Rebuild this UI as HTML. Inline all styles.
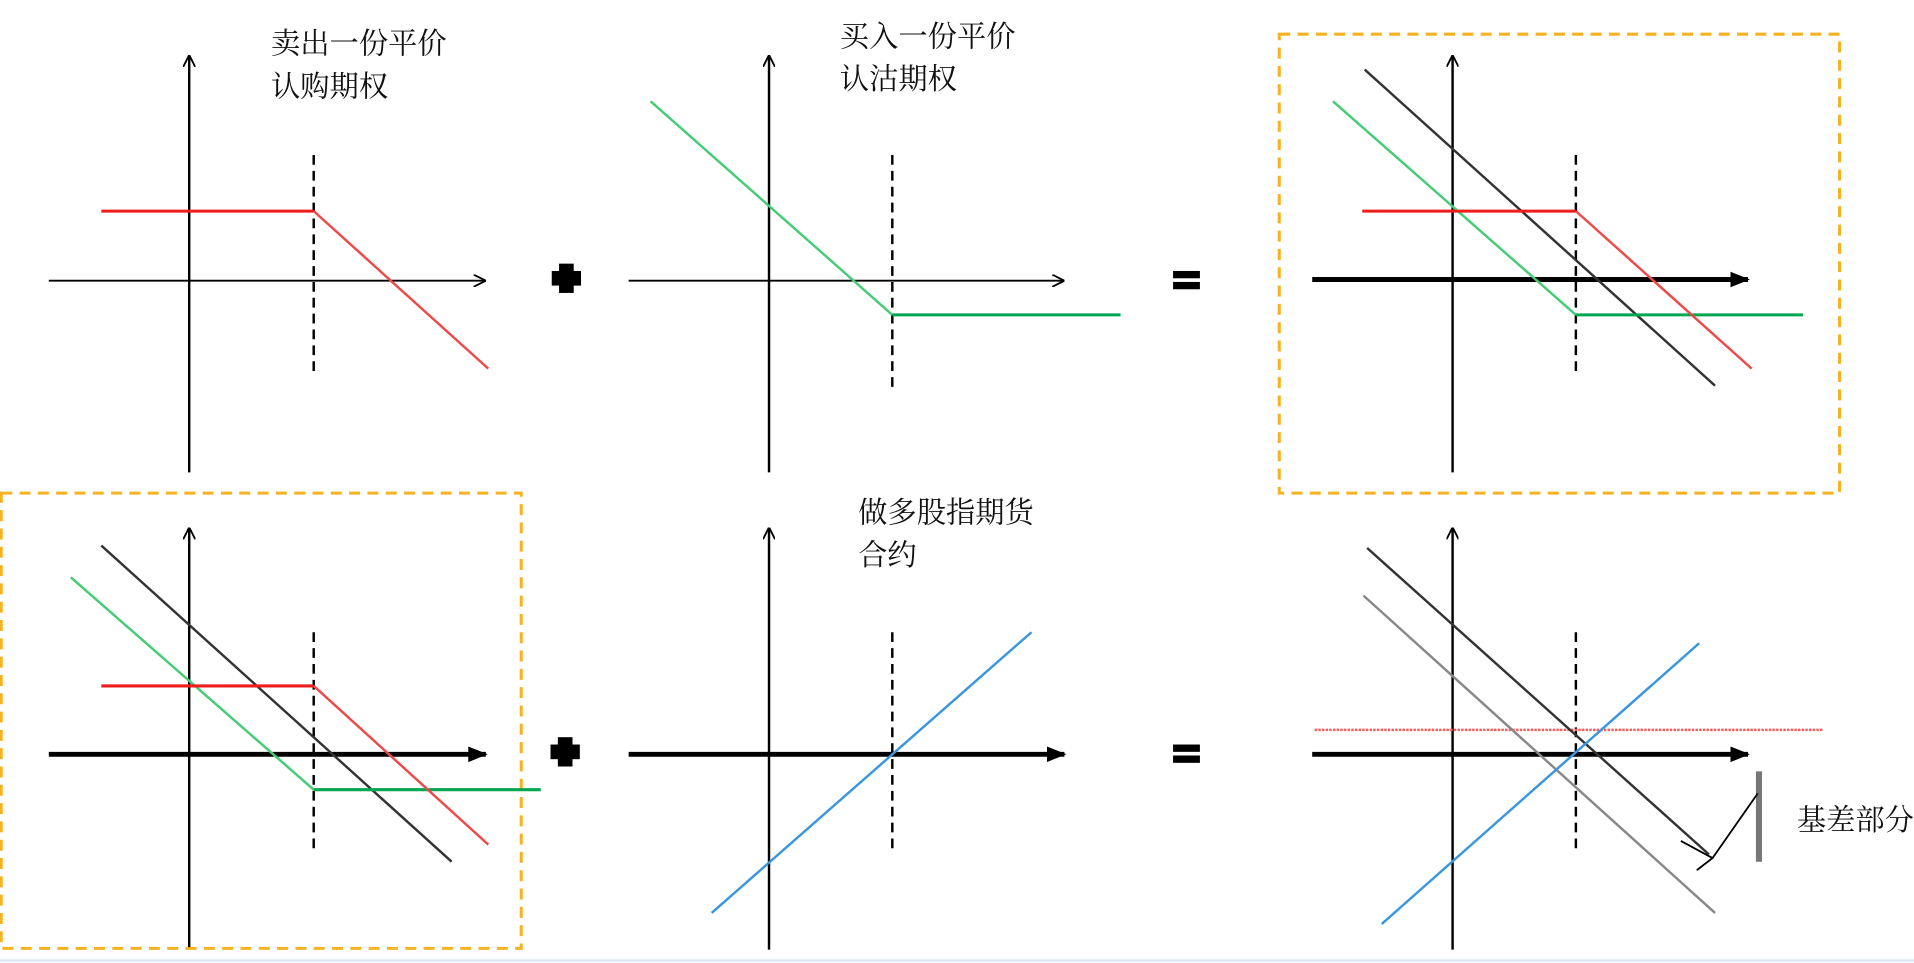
<!DOCTYPE html>
<html><head><meta charset="utf-8"><style>
html,body{margin:0;padding:0;background:#fff;overflow:hidden}
svg{display:block}
text{font-family:"Liberation Serif","Noto Serif CJK SC",serif;font-size:24px;fill:#111}
</style></head><body>
<svg width="1914" height="963" viewBox="0 0 1568 789" preserveAspectRatio="none" xmlns="http://www.w3.org/2000/svg">
<defs>
<marker id="a" viewBox="0 0 10 10" refX="9" refY="5" markerWidth="10" markerHeight="10" markerUnits="userSpaceOnUse" orient="auto"><path d="M0,0 L10,5 L0,10" fill="none" stroke="#000" stroke-width="1.5"/></marker>
<marker id="b" viewBox="0 0 10 10" refX="9" refY="5" markerWidth="16" markerHeight="16" markerUnits="userSpaceOnUse" orient="auto"><path d="M0,1 L10,5 L0,9 Z" fill="#000"/></marker>
</defs>
<rect width="1568" height="789" fill="#fff"/>
<line x1="0" y1="787" x2="1568" y2="787" stroke="#dbe8f0" stroke-width="2"/>
<rect x="1048" y="28" width="459" height="376" fill="none" stroke="#f5b321" stroke-width="2.5" stroke-dasharray="9,6"/>
<rect x="1" y="404" width="426" height="373" fill="none" stroke="#f5b321" stroke-width="2.5" stroke-dasharray="9,6"/>

<line x1="155" y1="387" x2="155" y2="46" stroke="#000" stroke-width="2" marker-end="url(#a)"/>
<line x1="40" y1="230" x2="397" y2="230" stroke="#000" stroke-width="1.5" marker-end="url(#a)"/>
<line x1="257" y1="127" x2="257" y2="305" stroke="#000" stroke-width="2" stroke-dasharray="8,5"/>
<polyline points="83,173 257,173" fill="none" stroke="#ee1c1c" stroke-width="2.5"/>
<line x1="257" y1="173" x2="400" y2="302" stroke="#f04848" stroke-width="2"/>
<text x="222" y="44">卖出一份平价</text><text x="222" y="79">认购期权</text>

<g fill="#000"><rect x="452" y="222" width="24" height="12"/><rect x="458" y="216" width="12" height="24"/>
<rect x="451" y="610" width="24" height="12"/><rect x="457" y="604" width="12" height="24"/>
<rect x="961" y="222" width="22" height="6"/><rect x="961" y="231" width="22" height="6"/>
<rect x="961" y="610" width="22" height="6"/><rect x="961" y="619" width="22" height="6"/></g>

<line x1="630" y1="387" x2="630" y2="46" stroke="#000" stroke-width="2" marker-end="url(#a)"/>
<line x1="515" y1="230" x2="871" y2="230" stroke="#000" stroke-width="1.5" marker-end="url(#a)"/>
<line x1="731" y1="127" x2="731" y2="318" stroke="#000" stroke-width="2" stroke-dasharray="8,5"/>
<line x1="533" y1="83" x2="731" y2="258" stroke="#44cc77" stroke-width="2"/>
<line x1="731" y1="258" x2="918" y2="258" stroke="#00a650" stroke-width="2.5"/>
<text x="688" y="38">买入一份平价</text><text x="688" y="73">认沽期权</text>

<line x1="1190" y1="387" x2="1190" y2="46" stroke="#000" stroke-width="2" marker-end="url(#a)"/>
<line x1="1075" y1="229" x2="1432" y2="229" stroke="#000" stroke-width="4" marker-end="url(#b)"/>
<line x1="1291" y1="127" x2="1291" y2="305" stroke="#000" stroke-width="2" stroke-dasharray="8,5"/>
<line x1="1118" y1="57" x2="1405" y2="316" stroke="#333" stroke-width="2"/>
<line x1="1092" y1="83" x2="1291" y2="258" stroke="#44cc77" stroke-width="2"/>
<line x1="1291" y1="258" x2="1477" y2="258" stroke="#00a650" stroke-width="2.5"/>
<line x1="1116" y1="173" x2="1291" y2="173" stroke="#ee1c1c" stroke-width="2.5"/>
<line x1="1291" y1="173" x2="1435" y2="302" stroke="#f04848" stroke-width="2"/>

<line x1="155" y1="776" x2="155" y2="433" stroke="#000" stroke-width="2" marker-end="url(#a)"/>
<line x1="40" y1="618" x2="398" y2="618" stroke="#000" stroke-width="4" marker-end="url(#b)"/>
<line x1="257" y1="518" x2="257" y2="695" stroke="#000" stroke-width="2" stroke-dasharray="8,5"/>
<line x1="83" y1="447" x2="370" y2="706" stroke="#333" stroke-width="2"/>
<line x1="58" y1="473" x2="257" y2="647" stroke="#44cc77" stroke-width="2"/>
<line x1="257" y1="647" x2="443" y2="647" stroke="#00a650" stroke-width="2.5"/>
<line x1="83" y1="562" x2="257" y2="562" stroke="#ee1c1c" stroke-width="2.5"/>
<line x1="257" y1="562" x2="400" y2="692" stroke="#f04848" stroke-width="2"/>

<line x1="630" y1="778" x2="630" y2="433" stroke="#000" stroke-width="2" marker-end="url(#a)"/>
<line x1="515" y1="618" x2="872" y2="618" stroke="#000" stroke-width="4" marker-end="url(#b)"/>
<line x1="731" y1="518" x2="731" y2="695" stroke="#000" stroke-width="2" stroke-dasharray="8,5"/>
<line x1="583" y1="748" x2="845" y2="518" stroke="#3a96dd" stroke-width="2"/>
<text x="703" y="428">做多股指期货</text><text x="703" y="463">合约</text>

<line x1="1190" y1="778" x2="1190" y2="433" stroke="#000" stroke-width="2" marker-end="url(#a)"/>
<line x1="1075" y1="618" x2="1432" y2="618" stroke="#000" stroke-width="4" marker-end="url(#b)"/>
<line x1="1291" y1="518" x2="1291" y2="695" stroke="#000" stroke-width="2" stroke-dasharray="8,5"/>
<line x1="1077" y1="598" x2="1493" y2="598" stroke="#f06060" stroke-width="2" stroke-dasharray="2,1"/>
<line x1="1120" y1="449" x2="1400" y2="700" stroke="#333" stroke-width="2"/>
<line x1="1117" y1="488" x2="1405" y2="748" stroke="#888" stroke-width="2"/>
<line x1="1132" y1="757" x2="1392" y2="527" stroke="#3a96dd" stroke-width="2"/>
<line x1="1441" y1="632" x2="1441" y2="706" stroke="#777" stroke-width="5"/>
<polyline points="1390,713 1403,703 1440,650" fill="none" stroke="#000" stroke-width="1.5"/>
<line x1="1377" y1="689" x2="1403" y2="703" stroke="#000" stroke-width="1.5"/>
<text x="1472" y="680">基差部分</text>
</svg>
</body></html>
